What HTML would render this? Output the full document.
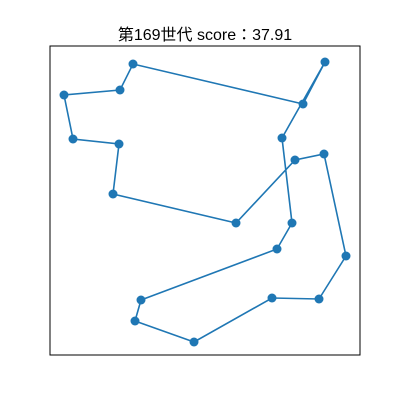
<!DOCTYPE html>
<html><head><meta charset="utf-8">
<style>
html,body{margin:0;padding:0;background:#fff;}
svg{display:block;}
</style></head>
<body>
<svg id="chart" width="400" height="400" xmlns="http://www.w3.org/2000/svg">
  <rect x="0" y="0" width="400" height="400" fill="#fff"/>
  <text x="205" y="40" text-anchor="middle" font-size="16" font-family="'Liberation Sans','Noto Sans CJK JP',sans-serif" fill="#000">第169世代 score：37.91</text>
  <g id="marks"></g>
  <rect x="50" y="46" width="310" height="309" fill="none" stroke="#000" stroke-width="1"/>
</svg>
<script>
// tour order, data coordinates (x right, y up), closed path
const xs = [253, 83, 70, 14, 23, 69, 63, 186, 245, 274, 296, 269, 222, 144, 85, 91, 227, 242, 232, 275];
const ys = [251, 291, 265, 260, 216, 211, 161, 132, 195, 201, 99, 56, 57, 13, 34, 55, 106, 132, 217, 293];
const X0 = 50, Y0 = 355, W = 310, H = 309;
function sx(v){ return X0 + v * W / 310; }
function sy(v){ return Y0 - v * H / 309; }
const g = document.getElementById('marks');
const NS = 'http://www.w3.org/2000/svg';
const pts = xs.map((x,i)=>sx(x).toFixed(1)+','+sy(ys[i]).toFixed(1));
pts.push(pts[0]);
const line = document.createElementNS(NS,'polyline');
line.setAttribute('points', pts.join(' '));
line.setAttribute('fill','none');
line.setAttribute('stroke','#1f77b4');
line.setAttribute('stroke-width','1.6');


g.appendChild(line);
xs.forEach((x,i)=>{
  const c = document.createElementNS(NS,'circle');
  c.setAttribute('cx', sx(x));
  c.setAttribute('cy', sy(ys[i]));
  c.setAttribute('r', 4.5);
  c.setAttribute('fill','#1f77b4');
  
  
  g.appendChild(c);
});
</script>
</body></html>
